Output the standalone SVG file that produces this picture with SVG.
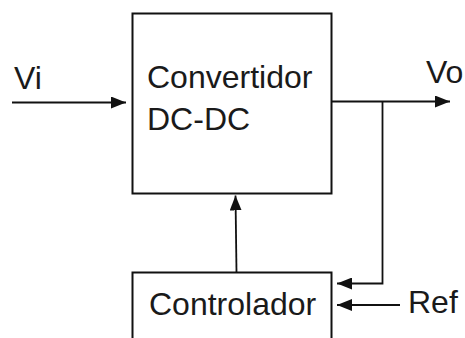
<svg xmlns="http://www.w3.org/2000/svg" width="465" height="338" viewBox="0 0 465 338">
<style>
.box{fill:#fff;stroke:#111;stroke-width:2}
.ln{fill:none;stroke:#111;stroke-width:1.8}
.t{font-family:"Liberation Sans",Arial,sans-serif;font-size:32px;fill:#1a1a1a}
</style>
<defs>
<marker id="ah" viewBox="0 0 15 12" refX="15" refY="6" markerWidth="15" markerHeight="12" markerUnits="userSpaceOnUse" orient="auto">
<path d="M0,0 L15,6 L0,12 Z" fill="#111"/>
</marker>
</defs>
<rect width="465" height="338" fill="#fff"/>
<g id="convertidor">
<rect class="box" x="132.5" y="13.5" width="199" height="180"/>
<text class="t" x="147" y="87.5">Convertidor</text>
<text class="t" x="147" y="129.5">DC-DC</text>
</g>
<g id="controlador">
<rect class="box" x="132.5" y="272.5" width="199" height="80"/>
<text class="t" x="149" y="315">Controlador</text>
</g>
<g id="labels">
<text class="t" x="14" y="89">Vi</text>
<text class="t" x="426" y="83">Vo</text>
<text class="t" x="408" y="313">Ref</text>
</g>
<g id="connectors">
<line class="ln" x1="12" y1="102.5" x2="126" y2="102.5" marker-end="url(#ah)"/>
<line class="ln" x1="332" y1="101.5" x2="450" y2="101.5" marker-end="url(#ah)"/>
<polyline class="ln" points="382.5,101.5 382.5,283.5 337,283.5" marker-end="url(#ah)"/>
<line class="ln" x1="400" y1="305" x2="337" y2="305" marker-end="url(#ah)"/>
<line class="ln" x1="236.5" y1="272.5" x2="235.5" y2="195.5" marker-end="url(#ah)"/>
</g>
</svg>
